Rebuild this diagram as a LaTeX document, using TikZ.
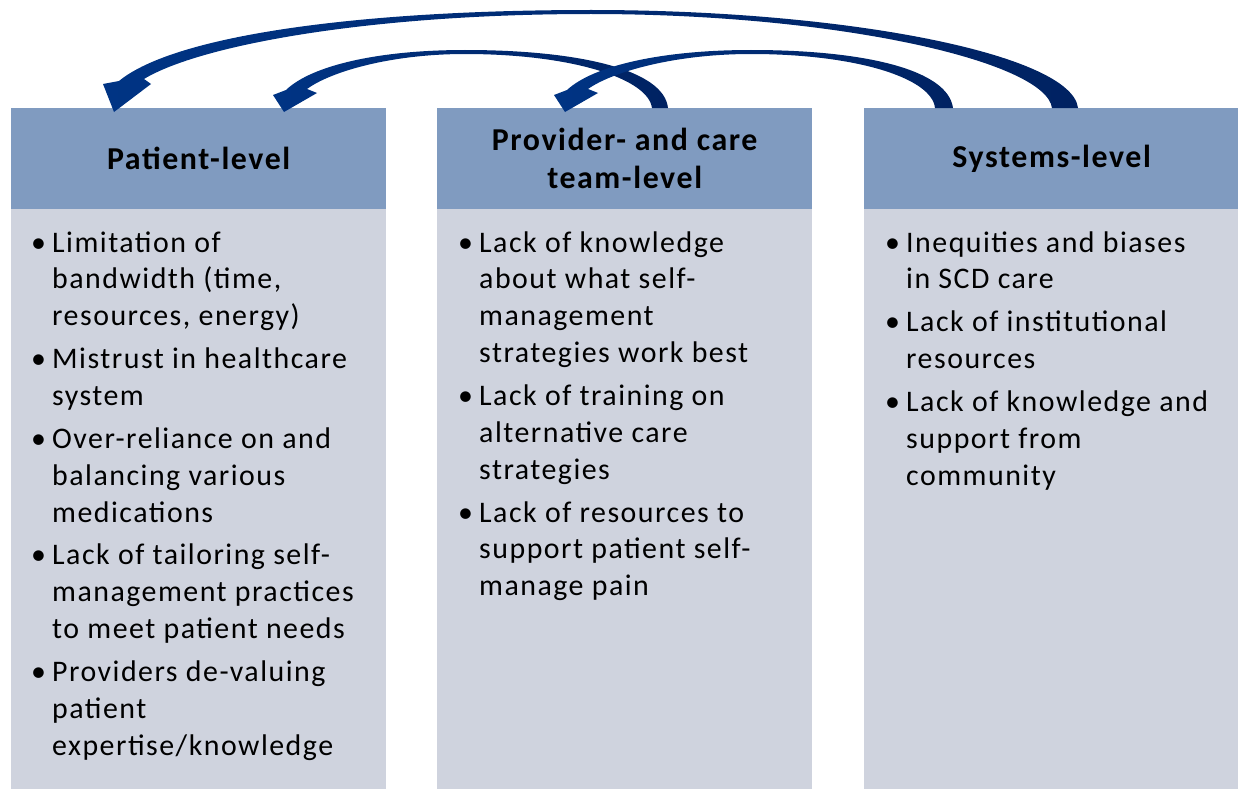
\documentclass[tikz,border=0pt]{standalone}
\usepackage{fontspec}
\setmainfont{Carlito}[LetterSpace=5]
\definecolor{hdr}{RGB}{128,155,192}
\definecolor{bdy}{RGB}{207,211,222}
\definecolor{navyA}{RGB}{0,52,132}
\definecolor{navyB}{RGB}{0,34,98}
\tikzset{
  hdrbox/.style={fill=hdr, draw=none, minimum width=375bp, minimum height=101bp, inner sep=0pt, anchor=north west},
  bdybox/.style={fill=bdy, draw=none, minimum width=375bp, minimum height=581bp, inner sep=0pt, anchor=north west},
  hdrtext/.style={align=center, font=\bfseries\fontsize{32}{38}\selectfont, inner sep=0pt},
  listtext/.style={anchor=north west, inner sep=0pt, font=\fontsize{30}{37}\selectfont},
  curvarrow/.style={left color=navyA, right color=navyB, draw=none}
}
\newcommand\bulx{\makebox[21bp][l]{\textbullet}}
\begin{document}
\begin{tikzpicture}[x=1bp,y=-1bp]
\useasboundingbox (0,0) rectangle (1238,789);
% boxes
\node[bdybox] (b1) at (11,209) {};
\node[bdybox] (b2) at (437,209) {};
\node[bdybox] (b3) at (864,209) {};
\node[hdrbox] (h1) at (11,108) {};
\node[hdrbox] (h2) at (437,108) {};
\node[hdrbox] (h3) at (864,108) {};
\node[hdrtext] (t1) at (h1.center) {Patient-level};
\node[hdrtext] (t2) at (h2.center) {Provider- and care\\team-level};
\node[hdrtext] (t3) at (h3.center) {Systems-level};
% lists
\node[listtext] (l1) at (31,226) {\begin{tabular}{@{}l@{}l@{}}
\bulx & Limitation of\\ & bandwidth (time,\\ & resources, energy)\\[6bp]
\bulx & Mistrust in healthcare\\ & system\\[6bp]
\bulx & Over-reliance on and\\ & balancing various\\ & medications\\[6bp]
\bulx & Lack of tailoring self-\\ & management practices\\ & to meet patient needs\\[6bp]
\bulx & Providers de-valuing\\ & patient\\ & expertise/knowledge
\end{tabular}};
\node[listtext] (l2) at (458,226) {\begin{tabular}{@{}l@{}l@{}}
\bulx & Lack of knowledge\\ & about what self-\\ & management\\ & strategies work best\\[6bp]
\bulx & Lack of training on\\ & alternative care\\ & strategies\\[6bp]
\bulx & Lack of resources to\\ & support patient self-\\ & manage pain
\end{tabular}};
\node[listtext] (l3) at (885,226) {\begin{tabular}{@{}l@{}l@{}}
\bulx & Inequities and biases\\ & in SCD care\\[6bp]
\bulx & Lack of institutional\\ & resources\\[6bp]
\bulx & Lack of knowledge and\\ & support from\\ & community
\end{tabular}};
% arrow C: systems -> patient
\shade[curvarrow] (1078,108) .. controls (1072,55) and (850,10) .. (591,10)
  .. controls (360,10) and (175,35) .. (119,81)
  -- (103,84) -- (114,112) -- (151,84) -- (144,79)
  .. controls (200,45) and (370,14) .. (591,14)
  .. controls (840,14) and (1046,62) .. (1052,108) -- cycle;
% arrow A: provider -> patient
\shade[curvarrow] (668,108) .. controls (664,70) and (580,50) .. (465,50)
  .. controls (380,50) and (312,65) .. (286,90)
  -- (273,95) -- (284,112) -- (317,93) -- (307,89)
  .. controls (330,72) and (390,54) .. (465,54)
  .. controls (570,54) and (648,78) .. (652,108) -- cycle;
% arrow B: systems -> provider
\shade[curvarrow] (953,108) .. controls (948,70) and (866,50) .. (751,50)
  .. controls (664,50) and (594,65) .. (567,90)
  -- (554,95) -- (565,112) -- (598,93) -- (588,89)
  .. controls (612,72) and (674,54) .. (751,54)
  .. controls (856,54) and (932,78) .. (935,108) -- cycle;
\end{tikzpicture}
\end{document}
